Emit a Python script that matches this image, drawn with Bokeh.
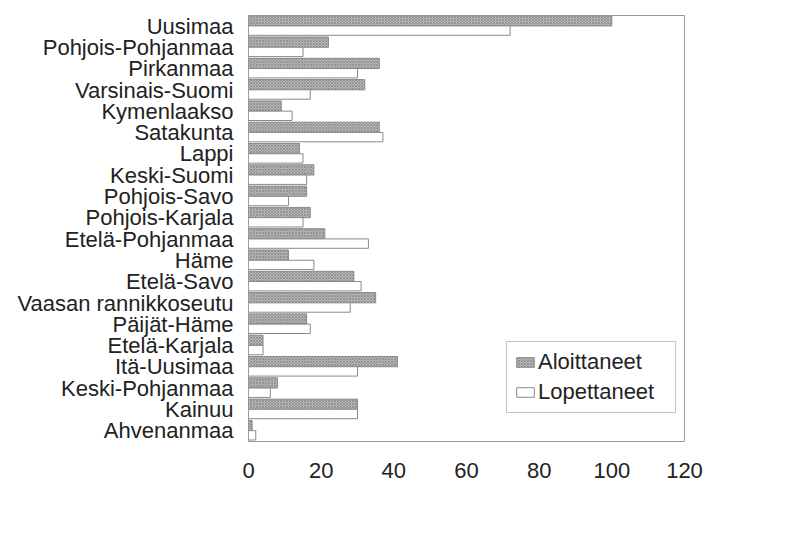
from bokeh.plotting import figure
from bokeh.models import ColumnDataSource, Legend, LegendItem, FixedTicker
from bokeh.transform import dodge
from bokeh.embed import file_html
from bokeh.resources import INLINE

regions = ["Uusimaa", "Pohjois-Pohjanmaa", "Pirkanmaa", "Varsinais-Suomi", "Kymenlaakso",
           "Satakunta", "Lappi", "Keski-Suomi", "Pohjois-Savo", "Pohjois-Karjala",
           "Etelä-Pohjanmaa", "Häme", "Etelä-Savo", "Vaasan rannikkoseutu", "Päijät-Häme",
           "Etelä-Karjala", "Itä-Uusimaa", "Keski-Pohjanmaa", "Kainuu", "Ahvenanmaa"]
aloittaneet = [100, 22, 36, 32, 9, 36, 14, 18, 16, 17, 21, 11, 29, 35, 16, 4, 41, 8, 30, 1]
lopettaneet = [72, 15, 30, 17, 12, 37, 15, 16, 11, 15, 33, 18, 31, 28, 17, 4, 30, 6, 30, 2]
x_ticks = [0, 20, 40, 60, 80, 100, 120]

FONT = "Liberation Sans"

source = ColumnDataSource(dict(region=regions, a=aloittaneet, l=lopettaneet))

p = figure(width=772, height=520, output_backend="svg", toolbar_location=None,
           y_range=list(reversed(regions)), x_range=(0, 120),
           min_border_left=248, min_border_right=88, min_border_top=15, min_border_bottom=79)
p.y_range.range_padding = 0

ra = p.hbar(y=dodge("region", 0.25, range=p.y_range), left=0, right="a", height=0.48,
            source=source, fill_color="#b8b8b8", line_color="#8a8a8a", line_width=1,
            hatch_pattern="x", hatch_scale=3, hatch_color="#7a7a7a", hatch_weight=0.6)
rl = p.hbar(y=dodge("region", -0.21, range=p.y_range), left=0, right="l", height=0.44,
            source=source, fill_color="white", line_color="#8a8a8a", line_width=1)

p.xgrid.visible = False
p.ygrid.visible = False
p.outline_line_color = "#9a9a9a"
p.outline_line_width = 1

p.xaxis.ticker = FixedTicker(ticks=x_ticks)
for ax in (p.xaxis[0], p.yaxis[0]):
    ax.axis_line_color = None
    ax.major_tick_line_color = None
    ax.minor_tick_line_color = None
    ax.major_label_text_font = FONT
    ax.major_label_text_font_size = "22px"
    ax.major_label_text_color = "#222222"
p.xaxis.major_label_standoff = 15
p.yaxis.major_label_standoff = 9

legend = Legend(items=[LegendItem(label="Aloittaneet", renderers=[ra]),
                       LegendItem(label="Lopettaneet", renderers=[rl])],
                location=(258, 28), label_text_font=FONT, label_text_font_size="22px",
                label_text_color="#222222", glyph_width=22, glyph_height=12,
                spacing=4, padding=7, margin=0, label_standoff=2, label_width=130,
                border_line_color="#8a8a8a", border_line_width=1, background_fill_alpha=1)
p.add_layout(legend, "center")

open("out.html", "w").write(file_html(p, INLINE))
